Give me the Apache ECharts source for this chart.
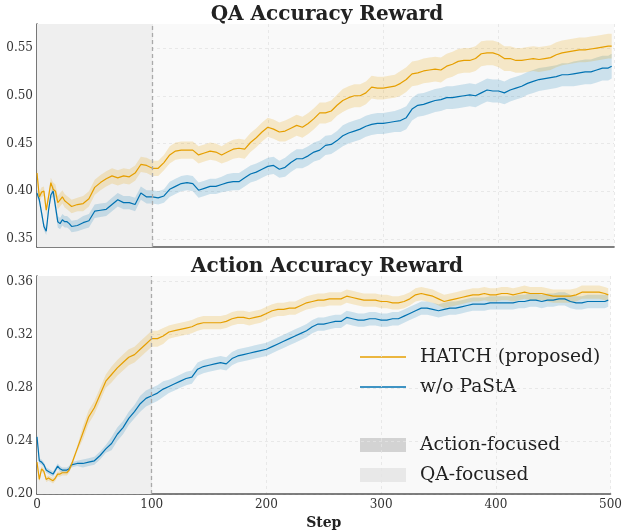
<!DOCTYPE html>
<html>
<head>
<meta charset="utf-8">
<script src="https://cdn.jsdelivr.net/npm/echarts@6/dist/echarts.min.js"></script>
<style>
  html, body { margin: 0; padding: 0; background: #fff; }
  #main { width: 625px; height: 531px; }
</style>
</head>
<body>
<div id="main"></div>
<script>
// training steps (denser at the noisy start)
var steps = [];
for (var s = 0; s <= 30; s += 2) steps.push(s);
for (var s2 = 35; s2 <= 495; s2 += 5) steps.push(s2);
steps.push(498);

// QA accuracy reward
var qaHatch = [
  0.419,0.394,0.399,0.400,0.380,0.394,0.409,0.402,0.400,0.388,0.391,0.394,0.390,0.388,0.386,0.384,
  0.386,0.387,0.392,0.404,0.409,0.413,0.416,0.414,0.416,0.415,0.419,0.428,0.427,0.424,
  0.424,0.430,0.438,0.442,0.443,0.443,0.443,0.438,0.440,0.442,0.441,0.438,0.441,0.444,0.445,0.444,
  0.451,0.456,0.462,0.467,0.465,0.462,0.463,0.466,0.469,0.467,0.471,0.476,0.482,
  0.482,0.484,0.490,0.495,0.498,0.500,0.500,0.503,0.509,0.508,
  0.508,0.509,0.510,0.513,0.517,0.523,0.524,0.526,0.527,0.528,
  0.527,0.531,0.533,0.536,0.537,0.537,0.539,0.544,0.545,0.545,
  0.543,0.539,0.539,0.537,0.537,0.538,0.539,0.538,0.539,0.540,
  0.543,0.545,0.546,0.547,0.548,0.548,0.549,0.550,0.551,0.552,
  0.552
];
var qaBase = [
  0.398,0.391,0.377,0.363,0.358,0.380,0.396,0.400,0.384,0.368,0.366,0.370,0.368,0.368,0.366,0.363,
  0.364,0.367,0.369,0.379,0.380,0.381,0.386,0.391,0.388,0.388,0.386,0.398,0.394,0.394,
  0.393,0.395,0.402,0.405,0.408,0.409,0.408,0.401,0.403,0.405,0.405,0.407,0.409,0.410,0.410,0.414,
  0.418,0.420,0.423,0.426,0.427,0.423,0.425,0.430,0.434,0.434,0.437,0.441,0.443,
  0.448,0.449,0.453,0.458,0.461,0.463,0.465,0.468,0.470,0.471,
  0.471,0.472,0.473,0.474,0.477,0.486,0.490,0.491,0.493,0.495,
  0.496,0.498,0.498,0.499,0.500,0.501,0.500,0.503,0.506,0.505,
  0.505,0.503,0.506,0.508,0.510,0.513,0.515,0.517,0.518,0.519,
  0.520,0.522,0.522,0.523,0.524,0.525,0.525,0.527,0.529,0.529,
  0.531
];
// action accuracy reward
var actHatch = [
  0.224,0.211,0.219,0.217,0.211,0.212,0.211,0.210,0.212,0.215,0.215,0.216,0.216,0.216,0.218,0.222,
  0.234,0.246,0.258,0.265,0.275,0.285,0.290,0.295,0.299,0.303,0.305,0.309,0.313,0.317,
  0.317,0.319,0.322,0.323,0.324,0.325,0.326,0.328,0.329,0.329,0.329,0.329,0.330,0.332,0.333,0.333,
  0.332,0.333,0.334,0.336,0.338,0.339,0.339,0.340,0.340,0.342,0.344,0.345,0.346,
  0.346,0.347,0.347,0.347,0.349,0.348,0.347,0.346,0.346,0.346,
  0.345,0.345,0.344,0.344,0.345,0.347,0.350,0.351,0.350,0.349,
  0.347,0.345,0.346,0.347,0.348,0.349,0.350,0.350,0.351,0.350,
  0.350,0.351,0.351,0.350,0.351,0.352,0.351,0.351,0.351,0.350,
  0.349,0.349,0.349,0.349,0.350,0.352,0.352,0.352,0.352,0.351,
  0.350
];
var actBase = [
  0.243,0.225,0.224,0.222,0.218,0.217,0.216,0.215,0.218,0.221,0.219,0.218,0.218,0.218,0.219,0.222,
  0.223,0.223,0.224,0.225,0.229,0.234,0.238,0.245,0.250,0.257,0.262,0.268,0.272,0.274,
  0.276,0.279,0.281,0.283,0.285,0.287,0.288,0.294,0.296,0.297,0.298,0.299,0.298,0.302,0.304,0.305,
  0.306,0.307,0.308,0.309,0.311,0.313,0.315,0.317,0.319,0.321,0.323,0.326,0.328,
  0.328,0.329,0.330,0.330,0.333,0.332,0.331,0.331,0.332,0.332,
  0.331,0.331,0.332,0.332,0.334,0.336,0.338,0.340,0.340,0.339,
  0.338,0.339,0.340,0.340,0.341,0.342,0.343,0.343,0.343,0.344,
  0.344,0.344,0.344,0.344,0.345,0.345,0.346,0.346,0.345,0.346,
  0.346,0.347,0.347,0.345,0.344,0.344,0.345,0.345,0.345,0.345,
  0.346
];
// half width of the shaded band, read every 25 steps
var qaHatchBand  = [0.005,0.007,0.008,0.008,0.008,0.009,0.009,0.010,0.010,0.011,0.011,0.012,0.012,0.013,0.013,0.013,0.013,0.013,0.013,0.013,0.013];
var qaBaseBand   = [0.004,0.006,0.007,0.007,0.007,0.008,0.008,0.009,0.009,0.010,0.010,0.011,0.011,0.012,0.012,0.012,0.012,0.012,0.012,0.013,0.013];
var actHatchBand = [0.002,0.002,0.005,0.006,0.006,0.005,0.005,0.005,0.005,0.005,0.005,0.005,0.005,0.005,0.005,0.005,0.005,0.005,0.005,0.005,0.005];
var actBaseBand  = [0.002,0.002,0.003,0.005,0.006,0.005,0.005,0.005,0.005,0.005,0.005,0.005,0.005,0.005,0.005,0.005,0.005,0.005,0.005,0.005,0.005];

var qaTicks = [0.35, 0.40, 0.45, 0.50, 0.55];
var actTicks = [0.20, 0.24, 0.28, 0.32, 0.36];
var phaseSplit = 100;

var ORANGE = '#E69F00', BLUE = '#0072B2';
var FONT = 'DejaVu Serif';

function bandOf(arr, step) { return arr[Math.round(step / 25)]; }

// shaded spread around a curve, drawn as one polygon through the axes
function bandSeries(idx, vals, band, fill) {
  return {
    type: 'custom', xAxisIndex: idx, yAxisIndex: idx, data: [[0, vals[0]]],
    silent: true, clip: true, z: 2,
    renderItem: function (params, api) {
      var up = [], down = [];
      steps.forEach(function (st, i) {
        var w = bandOf(band, st);
        up.push(api.coord([st, vals[i] + w]));
        down.push(api.coord([st, vals[i] - w]));
      });
      return { type: 'polygon', shape: { points: up.concat(down.reverse()) }, style: { fill: fill } };
    }
  };
}

function lineSeries(name, idx, vals, color) {
  return {
    type: 'line', name: name, xAxisIndex: idx, yAxisIndex: idx,
    data: steps.map(function (st, i) { return [st, vals[i]]; }),
    symbol: 'none', lineStyle: { color: color, width: 1.2 }, itemStyle: { color: color }, z: 4
  };
}

function phaseMarks(idx) {
  return {
    type: 'line', xAxisIndex: idx, yAxisIndex: idx, data: [], silent: true, z: 1,
    markArea: { silent: true, itemStyle: { color: '#efefef' }, data: [[{ xAxis: 0 }, { xAxis: phaseSplit }]] },
    markLine: { silent: true, symbol: 'none', label: { show: false },
      lineStyle: { color: '#aaaaaa', type: [4, 3], width: 1.3 }, data: [{ xAxis: phaseSplit }] }
  };
}

function xAxisOf(idx, showLabels) {
  return {
    type: 'value', gridIndex: idx, min: 0, max: 500, interval: 100,
    axisLine: { show: true, lineStyle: { color: '#555', width: 1.6 } },
    axisTick: { show: false },
    axisLabel: { show: showLabels, fontFamily: FONT, fontSize: 12, color: '#333', margin: 5 },
    splitLine: { show: true, lineStyle: { color: '#e4e4e4', type: [3, 3], width: 0.8 } },
    name: showLabels ? 'Step' : '', nameLocation: 'middle', nameGap: 22,
    nameTextStyle: { fontFamily: FONT, fontWeight: 'bold', fontSize: 14, color: '#222' }
  };
}

function yAxisOf(idx, lo, hi, ticks) {
  return {
    type: 'value', gridIndex: idx, min: lo, max: hi,
    axisLine: { show: true, lineStyle: { color: '#555', width: 1.6 } },
    axisTick: { show: false, customValues: ticks },
    axisLabel: { fontFamily: FONT, fontSize: 12, color: '#333', margin: 4, customValues: ticks,
      formatter: function (v) { return v.toFixed(2); } },
    splitLine: { show: true, lineStyle: { color: '#e4e4e4', type: [3, 3], width: 0.8 } }
  };
}

var chart = echarts.init(document.getElementById('main'));
var series = [
  phaseMarks(0), phaseMarks(1),
  bandSeries(0, qaBase, qaBaseBand, 'rgba(0,114,178,0.18)'),
  bandSeries(0, qaHatch, qaHatchBand, 'rgba(230,159,0,0.2)'),
  bandSeries(1, actBase, actBaseBand, 'rgba(0,114,178,0.18)'),
  bandSeries(1, actHatch, actHatchBand, 'rgba(230,159,0,0.2)'),
  lineSeries('w/o PaStA', 0, qaBase, BLUE),
  lineSeries('HATCH (proposed)', 0, qaHatch, ORANGE),
  lineSeries('w/o PaStA', 1, actBase, BLUE),
  lineSeries('HATCH (proposed)', 1, actHatch, ORANGE)
];

var legendX = 360, legendText = 420;
var legendFont = '18.7px "DejaVu Serif"';
chart.setOption({
  animation: false,
  backgroundColor: '#ffffff',
  title: [
    { text: 'QA Accuracy Reward', left: 322, textAlign: 'center', top: 0,
      textStyle: { fontFamily: FONT, fontWeight: 'bold', fontSize: 20, color: '#222' } },
    { text: 'Action Accuracy Reward', left: 322, textAlign: 'center', top: 252,
      textStyle: { fontFamily: FONT, fontWeight: 'bold', fontSize: 20, color: '#222' } }
  ],
  grid: [
    { left: 37, right: 11, top: 24, height: 223, show: true, backgroundColor: '#f9f9f9', borderWidth: 0 },
    { left: 37, right: 11, top: 276, height: 222, show: true, backgroundColor: '#f9f9f9', borderWidth: 0 }
  ],
  xAxis: [xAxisOf(0, false), xAxisOf(1, true)],
  yAxis: [yAxisOf(0, 0.3415, 0.5752, qaTicks), yAxisOf(1, 0.20, 0.3642, actTicks)],
  series: series,
  graphic: [
    { type: 'line', shape: { x1: legendX, y1: 357, x2: legendX + 46, y2: 357 }, style: { stroke: ORANGE, lineWidth: 1.3 } },
    { type: 'text', x: legendText, y: 357, style: { text: 'HATCH (proposed)', font: legendFont, fill: '#222', textVerticalAlign: 'middle' } },
    { type: 'line', shape: { x1: legendX, y1: 387, x2: legendX + 46, y2: 387 }, style: { stroke: BLUE, lineWidth: 1.3 } },
    { type: 'text', x: legendText, y: 387, style: { text: 'w/o PaStA', font: legendFont, fill: '#222', textVerticalAlign: 'middle' } },
    { type: 'rect', shape: { x: legendX, y: 438, width: 46, height: 14 }, style: { fill: '#d3d3d3' } },
    { type: 'text', x: legendText, y: 445, style: { text: 'Action-focused', font: legendFont, fill: '#222', textVerticalAlign: 'middle' } },
    { type: 'rect', shape: { x: legendX, y: 468, width: 46, height: 14 }, style: { fill: '#e8e8e8' } },
    { type: 'text', x: legendText, y: 475, style: { text: 'QA-focused', font: legendFont, fill: '#222', textVerticalAlign: 'middle' } }
  ]
});
</script>
</body>
</html>
